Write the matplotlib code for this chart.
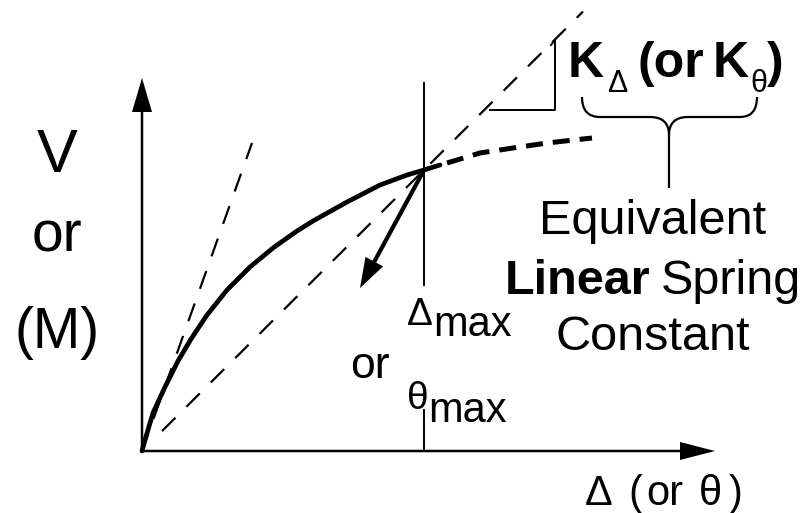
import numpy as np
import matplotlib
matplotlib.use('Agg')
import matplotlib.pyplot as plt
from matplotlib.path import Path
from matplotlib.patches import PathPatch

plt.rcParams['font.family'] = ['Liberation Sans', 'DejaVu Sans']

# load-deformation curve (axis origin at 0,0)
curve_d = [0, 3, 11, 23, 36, 49, 65, 85, 108, 131, 138, 155, 171, 205, 238, 265, 282, 298]
curve_v = [0, 11, 38, 64, 90, 112, 136, 161, 184, 203, 208, 220, 230, 249, 266, 276, 281, 286]
# continuation beyond the max point (dashed)
ext_d = [305, 338, 371, 405, 450]
ext_v = [288, 298, 303, 308, 313]

peak_d, peak_v = 282, 281
k_initial = 2.8              # slope of the initial tangent
tangent_range = [0, 110]
secant_range = [20, 441]
unload_end = (218, 163)

fig = plt.figure(figsize=(8.12, 5.13), dpi=100)
ax = fig.add_axes([0, 0, 1, 1])
ax.set_xlim(-142, 670)
ax.set_ylim(-62, 451)
ax.set_aspect('equal')
ax.axis('off')
rend = fig.canvas.get_renderer()


def text_run(x, y, parts, center=False):
    # parts: (string, size, weight, dy, gap after)
    items = []
    total = 0
    for s, size, weight, dy, gap in parts:
        t = ax.text(0, y + dy, s, fontsize=size, fontweight=weight, va='baseline')
        w = t.get_window_extent(renderer=rend).width
        items.append((t, w, gap))
        total += w + gap
    total -= items[-1][2]
    if center:
        x = x - total / 2
    for t, w, gap in items:
        t.set_x(x)
        x += w + gap


# axes with arrow heads
ax.arrow(0, 0, 0, 373, width=2.5, head_width=20, head_length=34,
         length_includes_head=True, fc='k', ec='k', lw=0)
ax.arrow(0, 0, 573, 0, width=2.5, head_width=18, head_length=35,
         length_includes_head=True, fc='k', ec='k', lw=0)

# max displacement marker
ax.plot([peak_d, peak_d], [166, 368], color='k', lw=1.4)
ax.plot([peak_d, peak_d], [0, 41], color='k', lw=1.4)

# initial stiffness and secant stiffness
tx = np.array(tangent_range)
ax.plot(tx, k_initial * tx, color='k', lw=1.6, dashes=(8.5, 7))
sx = np.array(secant_range)
ax.plot(sx, sx * peak_v / peak_d, color='k', lw=1.6, dashes=(8.5, 7))

# the curve
ax.plot(curve_d, curve_v, color='k', lw=3.4, solid_capstyle='round', solid_joinstyle='round')
ax.plot(ext_d, ext_v, color='k', lw=3.6, dashes=(3.4, 2.0))

# unloading arrow
ax.arrow(peak_d, peak_v, unload_end[0] - peak_d, unload_end[1] - peak_v, width=4.2,
         head_width=20, head_length=30, length_includes_head=True, fc='k', ec='k', lw=0)

# slope triangle
ax.plot([348, 413, 413, 409], [341, 341, 411, 406], color='k', lw=1.4)

# brace
verts = [(440, 354), (440, 334), (458, 334), (508, 334), (527, 334), (527, 316),
         (527, 334), (546, 334), (598, 334), (615, 334), (615, 354),
         (527, 316), (527, 263)]
codes = [Path.MOVETO, Path.CURVE3, Path.CURVE3, Path.LINETO, Path.CURVE3, Path.CURVE3,
         Path.CURVE3, Path.CURVE3, Path.LINETO, Path.CURVE3, Path.CURVE3,
         Path.MOVETO, Path.LINETO]
ax.add_patch(PathPatch(Path(verts, codes), fc='none', ec='k', lw=1.6))

# texts
mid = 35
ax.text(-85, 279, 'V', fontsize=44, ha='center', va='baseline')
ax.text(-85, 199, 'or', fontsize=41, ha='center', va='baseline')
ax.text(-85, 103, '(M)', fontsize=41, ha='center', va='baseline')

text_run(426, 374, [('K', 36, 'bold', 0, 3), ('Δ', 22, 'normal', -15, 10),
                    ('(or', 36, 'bold', 0, 9), ('K', 36, 'bold', 0, 1),
                    ('θ', 22, 'normal', -15, 0), (')', 36, 'bold', 0, 0)])

ax.text(511, 217, 'Equivalent', fontsize=mid, ha='center', va='baseline')
text_run(511, 157, [('Linear', mid, 'bold', 0, 11), ('Spring', mid, 'normal', 0, 0)],
         center=True)
ax.text(511, 101, 'Constant', fontsize=mid, ha='center', va='baseline')

text_run(265, 126, [('Δ', 28, 'normal', 0, 0), ('max', 30, 'normal', -11, 0)])
ax.text(208, 73, 'or', fontsize=32, va='baseline')
text_run(265, 42, [('θ', 28, 'normal', 0, 0), ('max', 30, 'normal', -13, 0)])

text_run(443, -54, [('Δ', 30, 'normal', 0, 16), ('(', 30, 'normal', 0, 4),
                    ('or', 30, 'normal', 0, 15), ('θ', 30, 'normal', 0, 7),
                    (')', 30, 'normal', 0, 0)])

fig.savefig('out.png', dpi=100)
